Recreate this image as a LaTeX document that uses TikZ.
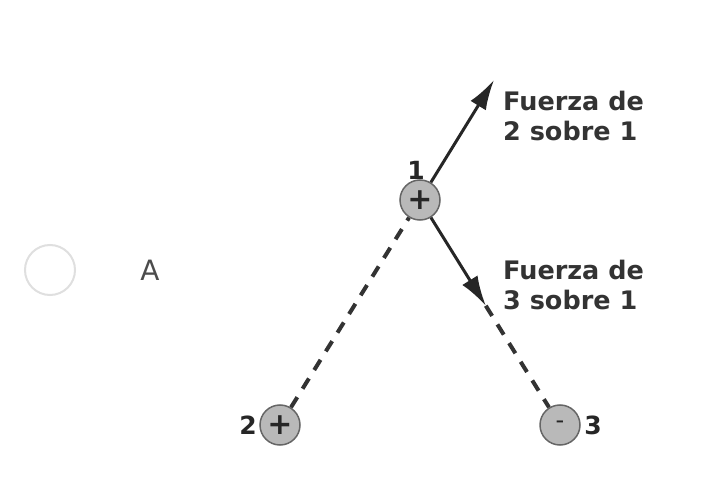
\documentclass[tikz,border=0pt]{standalone}
\usepackage{fontspec}
\setmainfont{DejaVu Sans}
\usetikzlibrary{arrows.meta,calc,positioning}

\begin{document}
\begin{tikzpicture}[x=1pt,y=-1pt,
  charge/.style={circle,draw=gray!80!black,line width=1.5pt,fill=gray!55,minimum size=40pt,inner sep=0pt,font=\fontsize{30}{30}\selectfont\bfseries,text=black!85},
  lbl/.style={font=\fontsize{25}{25}\selectfont\bfseries,text=black!85},
  force/.style={align=left,anchor=north west,inner sep=0pt,font=\fontsize{25.5}{30}\selectfont\bfseries,text=black!80},
  force arrow/.style={-{Latex[length=30pt,width=18pt]},line width=3pt,black!85},
  field line/.style={line width=4pt,black!80,dash pattern=on 12pt off 10pt}]
\useasboundingbox (0,0) rectangle (705,497);
%\draw[help lines, color=gray!30, dashed] (0,0) grid[step=50] (705,497);
% answer option
\draw[gray!25,line width=2pt] (50,270) circle (25);
\node[font=\fontsize{28}{28}\selectfont,text=black!70] (optA) at (150,270) {A};
% charges
\node[charge] (q1) at (420,200) {+};
\node[charge] (q2) at (280,425) {+};
\node[charge] (q3) at (560,425) {\normalfont\fontsize{24}{24}\selectfont -};
\node[lbl,above=-4pt] (n1) at ($(q1.north)+(-4,0)$) {1};
\node[lbl,left=-1pt of q2] (n2) {2};
\node[lbl,right=0pt of q3] (n3) {3};
% forces
\coordinate (tip21) at (494,80);
\coordinate (tip31) at ($(q1)!0.47!(q3)$);
\draw[field line] (q2) -- (q1);
\draw[force arrow] (q1) -- (tip21);
\draw[force arrow] (q1) -- (tip31);
\draw[field line] (tip31) -- (q3);
\node[force] (f21) at (503,91) {Fuerza de\\2 sobre 1};
\node[force] (f31) at (503,260) {Fuerza de\\3 sobre 1};
\end{tikzpicture}
\end{document}
